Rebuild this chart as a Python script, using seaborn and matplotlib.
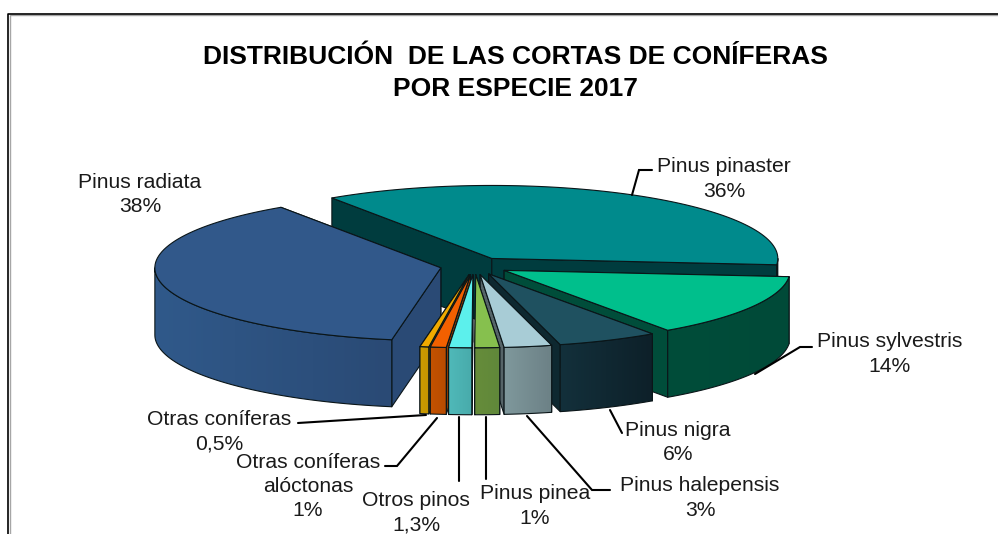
import numpy as np
import matplotlib
matplotlib.use("Agg")
import matplotlib.pyplot as plt
import seaborn as sns
from matplotlib.colors import to_rgb, LinearSegmentedColormap
from matplotlib.lines import Line2D
from matplotlib.patches import Polygon
from matplotlib.transforms import Affine2D

# ---- data ----
species = ["Pinus pinaster", "Pinus sylvestris", "Pinus nigra", "Pinus halepensis", "Pinus pinea",
           "Otros pinos", "Otras coníferas\nalóctonas", "Otras coníferas", "Pinus radiata"]
shares = [36.0, 14.0, 5.7, 2.7, 1.4, 1.3, 0.9, 0.5, 38.0]      # slice sizes as drawn
share_labels = ["36%", "14%", "6%", "3%", "1%", "1,3%", "1%", "0,5%", "38%"]
title_lines = ["DISTRIBUCIÓN  DE LAS CORTAS DE CONÍFERAS", "POR ESPECIE 2017"]

top_colors = ["#008a8c", "#00bf8c", "#1f5160", "#a8ccd6", "#86c04e", "#5cf0ec", "#f26000", "#f0aa00", "#31588a"]
rim_left = ["#004040", "#004d3a", "#13303b", "#7f989c", "#668c3a", "#4fb9b9", "#c45200", "#cc9c00", "#30598a"]
rim_right = ["#003f3f", "#004a38", "#0d2029", "#6c8186", "#60883a", "#48aaaa", "#b84c00", "#c49400", "#2a4a75"]
cut_colors = ["#003c3e", "#004d3a", "#0e2830", "#566468", "#4f5a50", "#38888a", "#8a3c00", "#8c6c00", "#2a4a75"]

# ---- layout (pixels of the 998x534 image) ----
W, H = 998, 534
CX, CY, RX, RY, DEPTH = 474.4, 266.0, 286.0, 73.0, 67.0
START_ANGLE = 124.0
EXPLODE = 0.12
BODY = "Liberation Sans"
LINE_STEP = 24.5
text_pos = [(724, 177.5), (890, 352.5), (678, 441), (700, 496.5), (535, 504.5), (416, 511.5), (308, 485), (219, 430), (140, 193)]
leaders = [
    [(632, 195), (639, 170), (652, 170)],
    [(755, 374), (800, 347), (812, 347)],
    [(610, 410), (622, 433)],
    [(527, 416), (592, 490), (610, 490)],
    [(486, 417), (486, 479)],
    [(459, 417), (459, 481)],
    [(437, 418), (397, 466), (385, 466)],
    [(426, 415), (298, 423)],
]

sns.set_theme(style="white", rc={"axes.facecolor": "white", "figure.facecolor": "white"})
palette = sns.color_palette(top_colors)

fig = plt.figure(figsize=(W / 100, H / 100), dpi=100)
ax = fig.add_axes([0, 0, 1, 1])
ax.set_xlim(-CX / RX, (W - CX) / RX)
ax.set_ylim((CY - H) / RY, CY / RY)
ax.axis("off")
limits = (ax.get_xlim(), ax.get_ylim())
px = Affine2D().scale(1, -1).translate(0, H)

h = DEPTH / RY
fractions = np.array(shares) / np.sum(shares)
edges = START_ANGLE - 360 * np.concatenate([[0], np.cumsum(fractions)])
EDGE = dict(edgecolor="#0a1518", linewidth=0.8, joinstyle="round")


def arc(t0, t1, ox, oy, n=80):
    t = np.radians(np.linspace(t0, t1, n))
    return np.column_stack([ox + np.cos(t), oy + np.sin(t)])


# painter's order: back slices first
order = [0, 1, 2, 8, 7, 6, 5, 3, 4]
z = 2
for i in order:
    t0, t1 = edges[i], edges[i + 1]  # clockwise from t0 to t1
    mid = np.radians((t0 + t1) / 2)
    ox, oy = EXPLODE * np.cos(mid), EXPLODE * np.sin(mid)
    apex = np.array([ox, oy])
    down = np.array([0, -h])
    # cut faces, the one further back first
    for t in sorted((t0, t1), key=lambda a: -np.sin(np.radians(a))):
        p = apex + [np.cos(np.radians(t)), np.sin(np.radians(t))]
        ax.add_patch(Polygon([apex, p, p + down, apex + down], closed=True,
                             facecolor=cut_colors[i], zorder=z, **EDGE))
        z += 1
    # visible rim: the part of the outline facing the viewer
    lo, hi = t1, t0
    vis = []
    for a, b in [(-180, 0), (-540, -360), (180, 360)]:
        s, e = max(lo, a), min(hi, b)
        if e > s:
            vis.append((s, e))
    for s, e in vis:
        upper = arc(s, e, ox, oy)
        poly = np.vstack([upper, (upper + down)[::-1]])
        cmap = LinearSegmentedColormap.from_list("rim", [to_rgb(rim_left[i]), to_rgb(rim_right[i])])
        x0, x1 = poly[:, 0].min(), poly[:, 0].max()
        y0, y1 = poly[:, 1].min(), poly[:, 1].max()
        im = ax.imshow(np.linspace(0, 1, 64)[None, :], extent=(x0, x1, y0, y1), cmap=cmap,
                       aspect="auto", origin="lower", zorder=z, interpolation="bilinear")
        patch = Polygon(poly, closed=True, facecolor="none", zorder=z + 1, **EDGE)
        ax.add_patch(patch)
        im.set_clip_path(patch)
        z += 2
    # top face
    top = np.vstack([apex, arc(t0, t1, ox, oy)])
    ax.add_patch(Polygon(top, closed=True, facecolor=palette[i], zorder=z, **EDGE))
    z += 1

ax.set_xlim(limits[0])
ax.set_ylim(limits[1])

# leaders
for path in leaders:
    xs, ys = zip(*path)
    fig.add_artist(Line2D(xs, ys, transform=px, color="#000000", lw=1.5, zorder=50, solid_joinstyle="miter"))

# labels, one text per line
for name, lab, (x, y) in zip(species, share_labels, text_pos):
    rows = name.split("\n") + [lab]
    for k, row in enumerate(rows):
        base = y + (k - (len(rows) - 1) / 2) * LINE_STEP + 7
        fig.text(x, base, row, transform=px, ha="center", va="baseline", family=BODY,
                 fontsize=15.2, color="#1a1a1a", zorder=60)
for k, row in enumerate(title_lines):
    fig.text(515, 64 + 32 * k, row, transform=px, ha="center", va="baseline", family=BODY, weight="bold",
             fontsize=19, color="#000000", zorder=60)

# chart frame: only top and left edges fall inside the crop
fig.add_artist(Line2D([9.5, 9.5, W], [H, 15, 15], transform=px, color="#a6a6a6", lw=1.0))
fig.add_artist(Line2D([8, 8, W], [H, 13.5, 13.5], transform=px, color="#000000", lw=1.2))

fig.savefig("out.png", dpi=100)
